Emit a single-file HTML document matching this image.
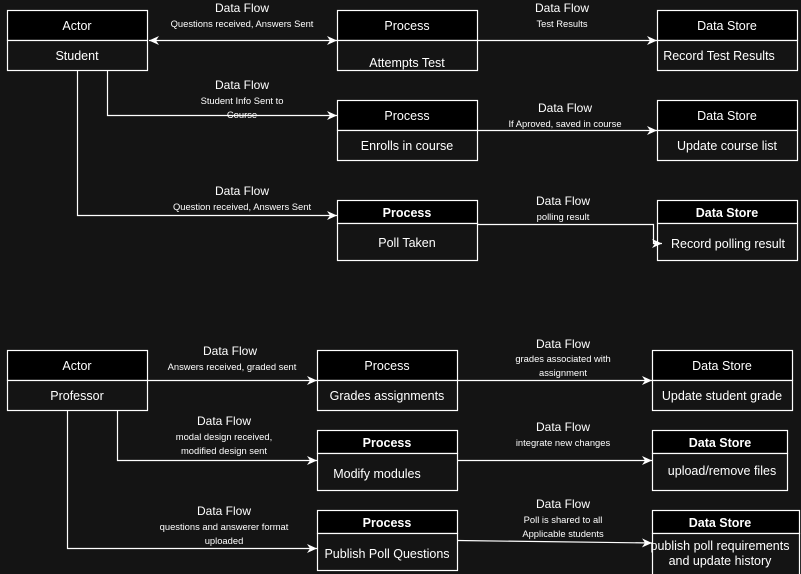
<!DOCTYPE html>
<html><head><meta charset="utf-8"><style>
html,body{margin:0;padding:0;background:#141414;}
svg{display:block;font-family:"Liberation Sans",Arial,sans-serif;}
</style></head><body>
<svg width="801" height="574" viewBox="0 0 801 574" xmlns="http://www.w3.org/2000/svg">
<defs>
<marker id="a" markerWidth="12" markerHeight="12" refX="10" refY="6" orient="auto" markerUnits="userSpaceOnUse">
<path d="M0,1.5 L10,6 L0,10.5 L3,6 Z" fill="#fff"/></marker>
<marker id="b" markerWidth="12" markerHeight="12" refX="1" refY="6" orient="auto" markerUnits="userSpaceOnUse">
<path d="M11,1.5 L1,6 L11,10.5 L8,6 Z" fill="#fff"/></marker>
</defs>
<g stroke="#fff" stroke-width="1.2">
<rect x="7.5" y="10.5" width="140" height="30" fill="#000"/><rect x="7.5" y="40.5" width="140" height="30" fill="#141414"/>
<rect x="337.5" y="10.5" width="140" height="30" fill="#000"/><rect x="337.5" y="40.5" width="140" height="30" fill="#141414"/>
<rect x="657.5" y="10.5" width="140" height="30" fill="#000"/><rect x="657.5" y="40.5" width="140" height="30" fill="#141414"/>
<rect x="337.5" y="100.5" width="140" height="30" fill="#000"/><rect x="337.5" y="130.5" width="140" height="30" fill="#141414"/>
<rect x="657.5" y="100.5" width="140" height="30" fill="#000"/><rect x="657.5" y="130.5" width="140" height="30" fill="#141414"/>
<rect x="337.5" y="200.5" width="140" height="23" fill="#000"/><rect x="337.5" y="223.5" width="140" height="37" fill="#141414"/>
<rect x="657.5" y="200.5" width="140" height="23" fill="#000"/><rect x="657.5" y="223.5" width="140" height="37" fill="#141414"/>

<rect x="7.5" y="350.5" width="140" height="30" fill="#000"/><rect x="7.5" y="380.5" width="140" height="30" fill="#141414"/>
<rect x="317.5" y="350.5" width="140" height="30" fill="#000"/><rect x="317.5" y="380.5" width="140" height="30" fill="#141414"/>
<rect x="652.5" y="350.5" width="140" height="30" fill="#000"/><rect x="652.5" y="380.5" width="140" height="30" fill="#141414"/>
<rect x="317.5" y="430.5" width="140" height="23" fill="#000"/><rect x="317.5" y="453.5" width="140" height="37" fill="#141414"/>
<rect x="652.5" y="430.5" width="135" height="23" fill="#000"/><rect x="652.5" y="453.5" width="135" height="37" fill="#141414"/>
<rect x="317.5" y="510.5" width="140" height="23" fill="#000"/><rect x="317.5" y="533.5" width="140" height="37" fill="#141414"/>
<rect x="652.5" y="510.5" width="147" height="23" fill="#000"/><rect x="652.5" y="533.5" width="147" height="42" fill="#141414"/>
</g>
<g stroke="#fff" stroke-width="1.2" fill="none">
<line x1="149" y1="40.5" x2="337" y2="40.5" marker-start="url(#b)" marker-end="url(#a)"/>
<line x1="477" y1="40.5" x2="657" y2="40.5" marker-end="url(#a)"/>
<polyline points="107.5,70 107.5,115.5 337,115.5" marker-end="url(#a)"/>
<line x1="477" y1="130.5" x2="657" y2="130.5" marker-end="url(#a)"/>
<polyline points="77.5,70 77.5,215.5 337,215.5" marker-end="url(#a)"/>
<polyline points="477,224.5 653.5,224.5 653.5,243.5 662,243.5" marker-end="url(#a)"/>

<line x1="147" y1="380.5" x2="317" y2="380.5" marker-end="url(#a)"/>
<line x1="457" y1="380.5" x2="652" y2="380.5" marker-end="url(#a)"/>
<polyline points="117.5,410 117.5,460.5 317,460.5" marker-end="url(#a)"/>
<line x1="457" y1="460.5" x2="652" y2="460.5" marker-end="url(#a)"/>
<polyline points="67.5,410 67.5,548.5 317,548.5" marker-end="url(#a)"/>
<line x1="457" y1="540.5" x2="652" y2="543" marker-end="url(#a)"/>
</g>
<g fill="#fff" font-size="12.5" text-anchor="middle">
<text x="77" y="30">Actor</text><text x="77" y="60">Student</text>
<text x="407" y="30">Process</text><text x="407" y="67">Attempts Test</text>
<text x="727" y="30">Data Store</text><text x="719" y="60">Record Test Results</text>
<text x="407" y="120">Process</text><text x="407" y="150">Enrolls in course</text>
<text x="727" y="120">Data Store</text><text x="727" y="150">Update course list</text>
<text x="407" y="217" font-weight="bold">Process</text><text x="407" y="247">Poll Taken</text>
<text x="727" y="217" font-weight="bold">Data Store</text><text x="728" y="248">Record polling result</text>

<text x="77" y="370">Actor</text><text x="77" y="400">Professor</text>
<text x="387" y="370">Process</text><text x="387" y="400">Grades assignments</text>
<text x="722" y="370">Data Store</text><text x="722" y="400">Update student grade</text>
<text x="387" y="447" font-weight="bold">Process</text><text x="377" y="478">Modify modules</text>
<text x="720" y="447" font-weight="bold">Data Store</text><text x="722" y="475">upload/remove files</text>
<text x="387" y="527" font-weight="bold">Process</text><text x="387" y="558">Publish Poll Questions</text>
<text x="720" y="527" font-weight="bold">Data Store</text><text x="720" y="550">publish poll requirements</text><text x="720" y="565">and update history</text>

<g font-size="12">
<text x="242" y="12">Data Flow</text><text x="562" y="12">Data Flow</text>
<text x="242" y="89">Data Flow</text><text x="565" y="112">Data Flow</text>
<text x="242" y="195">Data Flow</text><text x="563" y="205">Data Flow</text>
<text x="230" y="355">Data Flow</text><text x="563" y="348">Data Flow</text>
<text x="224" y="425">Data Flow</text><text x="563" y="431">Data Flow</text>
<text x="224" y="515">Data Flow</text><text x="563" y="508">Data Flow</text>
</g>
<g font-size="9.4">
<text x="242" y="27">Questions received, Answers Sent</text>
<text x="562" y="27">Test Results</text>
<text x="242" y="104">Student Info Sent to</text><text x="242" y="118">Course</text>
<text x="565" y="127">If Aproved, saved in course</text>
<text x="242" y="210">Question received, Answers Sent</text>
<text x="563" y="220">polling result</text>
<text x="232" y="370">Answers received, graded sent</text>
<text x="563" y="362">grades associated with</text><text x="563" y="376">assignment</text>
<text x="224" y="440">modal design received,</text><text x="224" y="454">modified design sent</text>
<text x="563" y="446">integrate new changes</text>
<text x="224" y="530">questions and answerer format</text><text x="224" y="544">uploaded</text>
<text x="563" y="523">Poll is shared to all</text><text x="563" y="537">Applicable students</text>
</g>
</g>
</svg>
</body></html>
